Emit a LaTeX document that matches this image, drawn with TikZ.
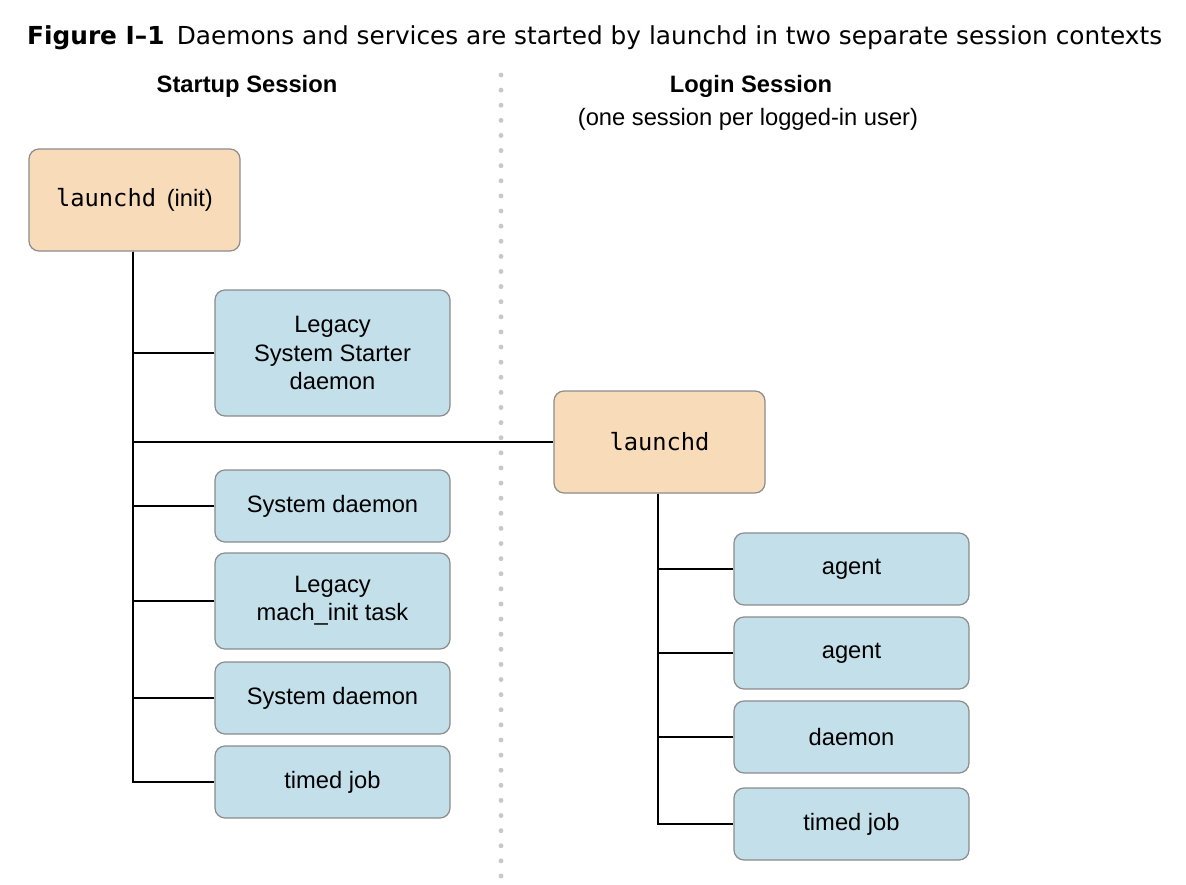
\documentclass[tikz,border=0pt]{standalone}
\usepackage{fontspec}
\setmainfont{Liberation Sans}
\newfontfamily\titlefont{DejaVu Sans}
\setmonofont{DejaVu Sans Mono}
\usepackage{xcolor}
\definecolor{daemon-peach}{HTML}{F8DCBA}
\definecolor{job-blue}{HTML}{C2DFEA}
\definecolor{box-edge}{HTML}{8C8C8C}
\definecolor{divider-grey}{HTML}{C8C8C8}

\begin{document}
\begin{tikzpicture}[x=0.2mm, y=-0.2mm,
        every node/.style={font=\fontsize{13.5}{16}\selectfont},
        launcher/.style={draw=box-edge, fill=daemon-peach, rounded corners=2mm,
            line width=0.7pt, minimum width=42.2mm, minimum height=20.4mm},
        job/.style={draw=box-edge, fill=job-blue, rounded corners=2mm, line width=0.7pt,
            minimum width=47mm, minimum height=14.4mm, align=center},
        link/.style={line width=1.1pt}]
      \useasboundingbox (0,0) rectangle (1186,884);
      % caption and column headings
      \node[anchor=west, font=\titlefont\fontsize{14.1}{17}\selectfont] (caption) at (21,38)
        {\textbf{Figure I–1}\hspace{0.5em}Daemons and services are started by launchd in two separate session contexts};
      \node[font=\bfseries\fontsize{13.5}{16}\selectfont] (startHead) at (247,86) {Startup Session};
      \node[font=\bfseries\fontsize{13.5}{16}\selectfont] (loginHead) at (751,86) {Login Session};
      \node (loginSub) at (748,119) {(one session per logged-in user)};
      % session divider
      \coordinate (divTop) at (501,75);
      \coordinate (divBot) at (501,880);
      \draw[divider-grey, line width=2.8pt, line cap=round, dash pattern=on 0pt off 8.6pt] (divTop) -- (divBot);
      % startup session
      \node[launcher] (init) at (134.5,200) {\texttt{launchd}\hspace{0.45em}(init)};
      \node[job, minimum height=25.2mm] (starter) at (332.5,353) {Legacy\\System Starter\\daemon};
      \node[job] (sysA) at (332.5,506) {System daemon};
      \node[job, minimum height=19.2mm] (machInit) at (332.5,601) {Legacy\\mach\_init task};
      \node[job] (sysB) at (332.5,698) {System daemon};
      \node[job] (timedA) at (332.5,782) {timed job};
      % login session
      \node[launcher] (login) at (659.5,442) {\texttt{launchd}};
      \node[job] (agentA) at (851.5,569) {agent};
      \node[job] (agentB) at (851.5,653) {agent};
      \node[job] (userDaemon) at (851.5,737) {daemon};
      \node[job] (timedB) at (851.5,824) {timed job};
      % tree links
      \foreach \child in {starter, sysA, machInit, sysB, timedA, login}
        \draw[link] ([xshift=-0.3mm]init.south) |- (\child.west);
      \foreach \child in {agentA, agentB, userDaemon, timedB}
        \draw[link] ([xshift=-0.3mm]login.south) |- (\child.west);
\end{tikzpicture}
\end{document}
